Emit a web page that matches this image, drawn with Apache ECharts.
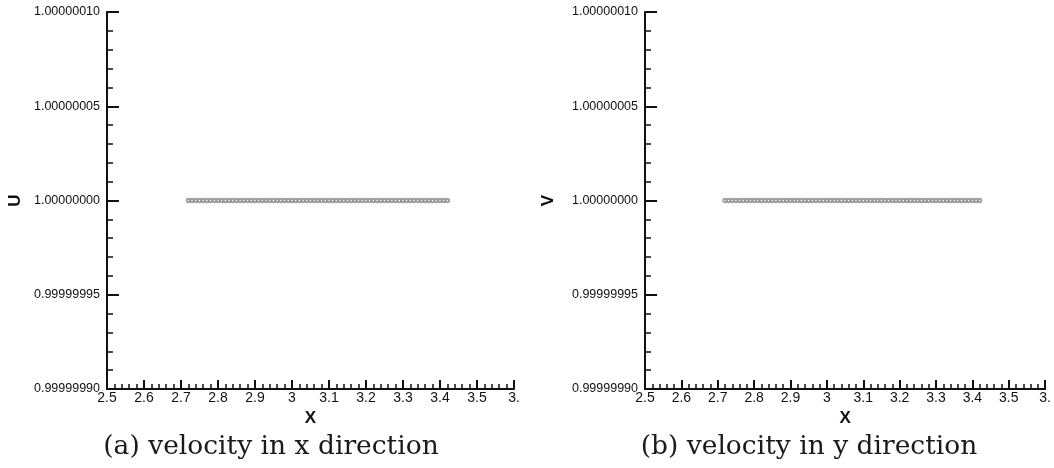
<!DOCTYPE html>
<html>
<head>
<meta charset="utf-8">
<title>velocity</title>
<script src="https://cdn.jsdelivr.net/npm/echarts@6/dist/echarts.min.js"></script>
<style>
  html, body { margin: 0; padding: 0; background: #fff; }
  #main { width: 1054px; height: 468px; }
</style>
</head>
<body>
<div id="main"></div>
<script>
// sample positions along x (spacing ~0.01)
var xPoints = [
  2.72, 2.73, 2.74, 2.75, 2.76, 2.77, 2.78, 2.79, 2.80, 2.81,
  2.82, 2.83, 2.84, 2.85, 2.86, 2.87, 2.88, 2.89, 2.90, 2.91,
  2.92, 2.93, 2.94, 2.95, 2.96, 2.97, 2.98, 2.99, 3.00, 3.01,
  3.02, 3.03, 3.04, 3.05, 3.06, 3.07, 3.08, 3.09, 3.10, 3.11,
  3.12, 3.13, 3.14, 3.15, 3.16, 3.17, 3.18, 3.19, 3.20, 3.21,
  3.22, 3.23, 3.24, 3.25, 3.26, 3.27, 3.28, 3.29, 3.30, 3.31,
  3.32, 3.33, 3.34, 3.35, 3.36, 3.37, 3.38, 3.39, 3.40, 3.41,
  3.42
];
// velocity u (x direction)
var uValues = [
  1, 1, 1, 1, 1, 1, 1, 1, 1, 1,
  1, 1, 1, 1, 1, 1, 1, 1, 1, 1,
  1, 1, 1, 1, 1, 1, 1, 1, 1, 1,
  1, 1, 1, 1, 1, 1, 1, 1, 1, 1,
  1, 1, 1, 1, 1, 1, 1, 1, 1, 1,
  1, 1, 1, 1, 1, 1, 1, 1, 1, 1,
  1, 1, 1, 1, 1, 1, 1, 1, 1, 1,
  1
];
// velocity v (y direction)
var vValues = [
  1, 1, 1, 1, 1, 1, 1, 1, 1, 1,
  1, 1, 1, 1, 1, 1, 1, 1, 1, 1,
  1, 1, 1, 1, 1, 1, 1, 1, 1, 1,
  1, 1, 1, 1, 1, 1, 1, 1, 1, 1,
  1, 1, 1, 1, 1, 1, 1, 1, 1, 1,
  1, 1, 1, 1, 1, 1, 1, 1, 1, 1,
  1, 1, 1, 1, 1, 1, 1, 1, 1, 1,
  1
];
// tick labels as printed (last x label is cut off in the figure)
var xTickLabels = ['2.5', '2.6', '2.7', '2.8', '2.9', '3', '3.1', '3.2', '3.3', '3.4', '3.5', '3.'];
var yTickLabels = ['0.99999990', '0.99999995', '1.00000000', '1.00000005', '1.00000010'];
var captions = ['(a) velocity in x direction', '(b) velocity in y direction'];
var yNames = ['U', 'V'];

var xMin = 2.5, xMax = 3.6, xStep = 0.1;
var yMin = 0.9999999, yMax = 1.0000001, yStep = 0.00000005;

var gridLeft = [107, 645];
var gridW = 407;
var yNameGap = [83, 88];
var captionX = [266, 804];

function xAxisFor(i) {
    return {
        gridIndex: i,
        type: 'value',
        min: xMin, max: xMax, interval: xStep,
        name: 'X',
        nameLocation: 'middle',
        nameGap: 20,
        nameTextStyle: { fontFamily: 'Liberation Sans', fontWeight: 'bold', fontSize: 17, color: '#111' },
        axisLine: { show: true, onZero: false, lineStyle: { color: '#111', width: 2 } },
        axisTick: { show: true, inside: true, length: 9, lineStyle: { color: '#111', width: 2 } },
        minorTick: { show: true, splitNumber: 5, length: 5, lineStyle: { color: '#111', width: 1.5 } },
        splitLine: { show: false },
        minorSplitLine: { show: false },
        axisLabel: {
            margin: 2,
            color: '#111',
            fontFamily: 'Liberation Sans',
            fontSize: 14,
            showMinLabel: true, showMaxLabel: true,
            formatter: function (v) {
                return xTickLabels[Math.round((v - xMin) / xStep)];
            }
        }
    };
}

function yAxisFor(i) {
    return {
        gridIndex: i,
        type: 'value',
        min: yMin, max: yMax, interval: yStep,
        name: yNames[i],
        nameLocation: 'middle',
        nameRotate: 90,
        nameGap: yNameGap[i],
        nameTextStyle: { fontFamily: 'Liberation Sans', fontWeight: 'bold', fontSize: 17, color: '#111' },
        axisLine: { show: true, onZero: false, lineStyle: { color: '#111', width: 2 } },
        axisTick: { show: true, inside: true, length: 12, lineStyle: { color: '#111', width: 2 } },
        minorTick: { show: true, splitNumber: 5, length: 6, lineStyle: { color: '#111', width: 1.5 } },
        splitLine: { show: false },
        minorSplitLine: { show: false },
        axisLabel: {
            margin: 7,
            color: '#111',
            fontFamily: 'Liberation Sans',
            fontSize: 12.5,
            showMinLabel: true, showMaxLabel: true,
            formatter: function (v) {
                return yTickLabels[Math.round((v - yMin) / yStep)];
            }
        }
    };
}

function seriesFor(i, values) {
    var pts = [];
    for (var k = 0; k < xPoints.length; k++) {
        pts.push([xPoints[k], values[k]]);
    }
    return {
        type: 'scatter',
        xAxisIndex: i,
        yAxisIndex: i,
        symbol: 'emptyCircle',
        symbolSize: 3.4,
        silent: true,
        itemStyle: { color: '#8a8a8a', borderColor: '#8a8a8a', borderWidth: 0.8 },
        data: pts
    };
}

var myChart = echarts.init(document.getElementById('main'), null, { renderer: 'canvas' });

var option = {
    animation: false,
    backgroundColor: '#fff',
    title: [0, 1].map(function (i) {
        return {
            text: captions[i],
            left: captionX[i],
            top: 429,
            textAlign: 'center',
            textStyle: { fontFamily: 'DejaVu Serif', fontWeight: 'normal', fontSize: 26.5, color: '#1a1a1a' }
        };
    }),
    grid: [0, 1].map(function (i) {
        return { left: gridLeft[i], top: 12, width: gridW, height: 377, containLabel: false };
    }),
    xAxis: [xAxisFor(0), xAxisFor(1)],
    yAxis: [yAxisFor(0), yAxisFor(1)],
    series: [seriesFor(0, uValues), seriesFor(1, vValues)]
};
myChart.setOption(option, true);
</script>
</body>
</html>
